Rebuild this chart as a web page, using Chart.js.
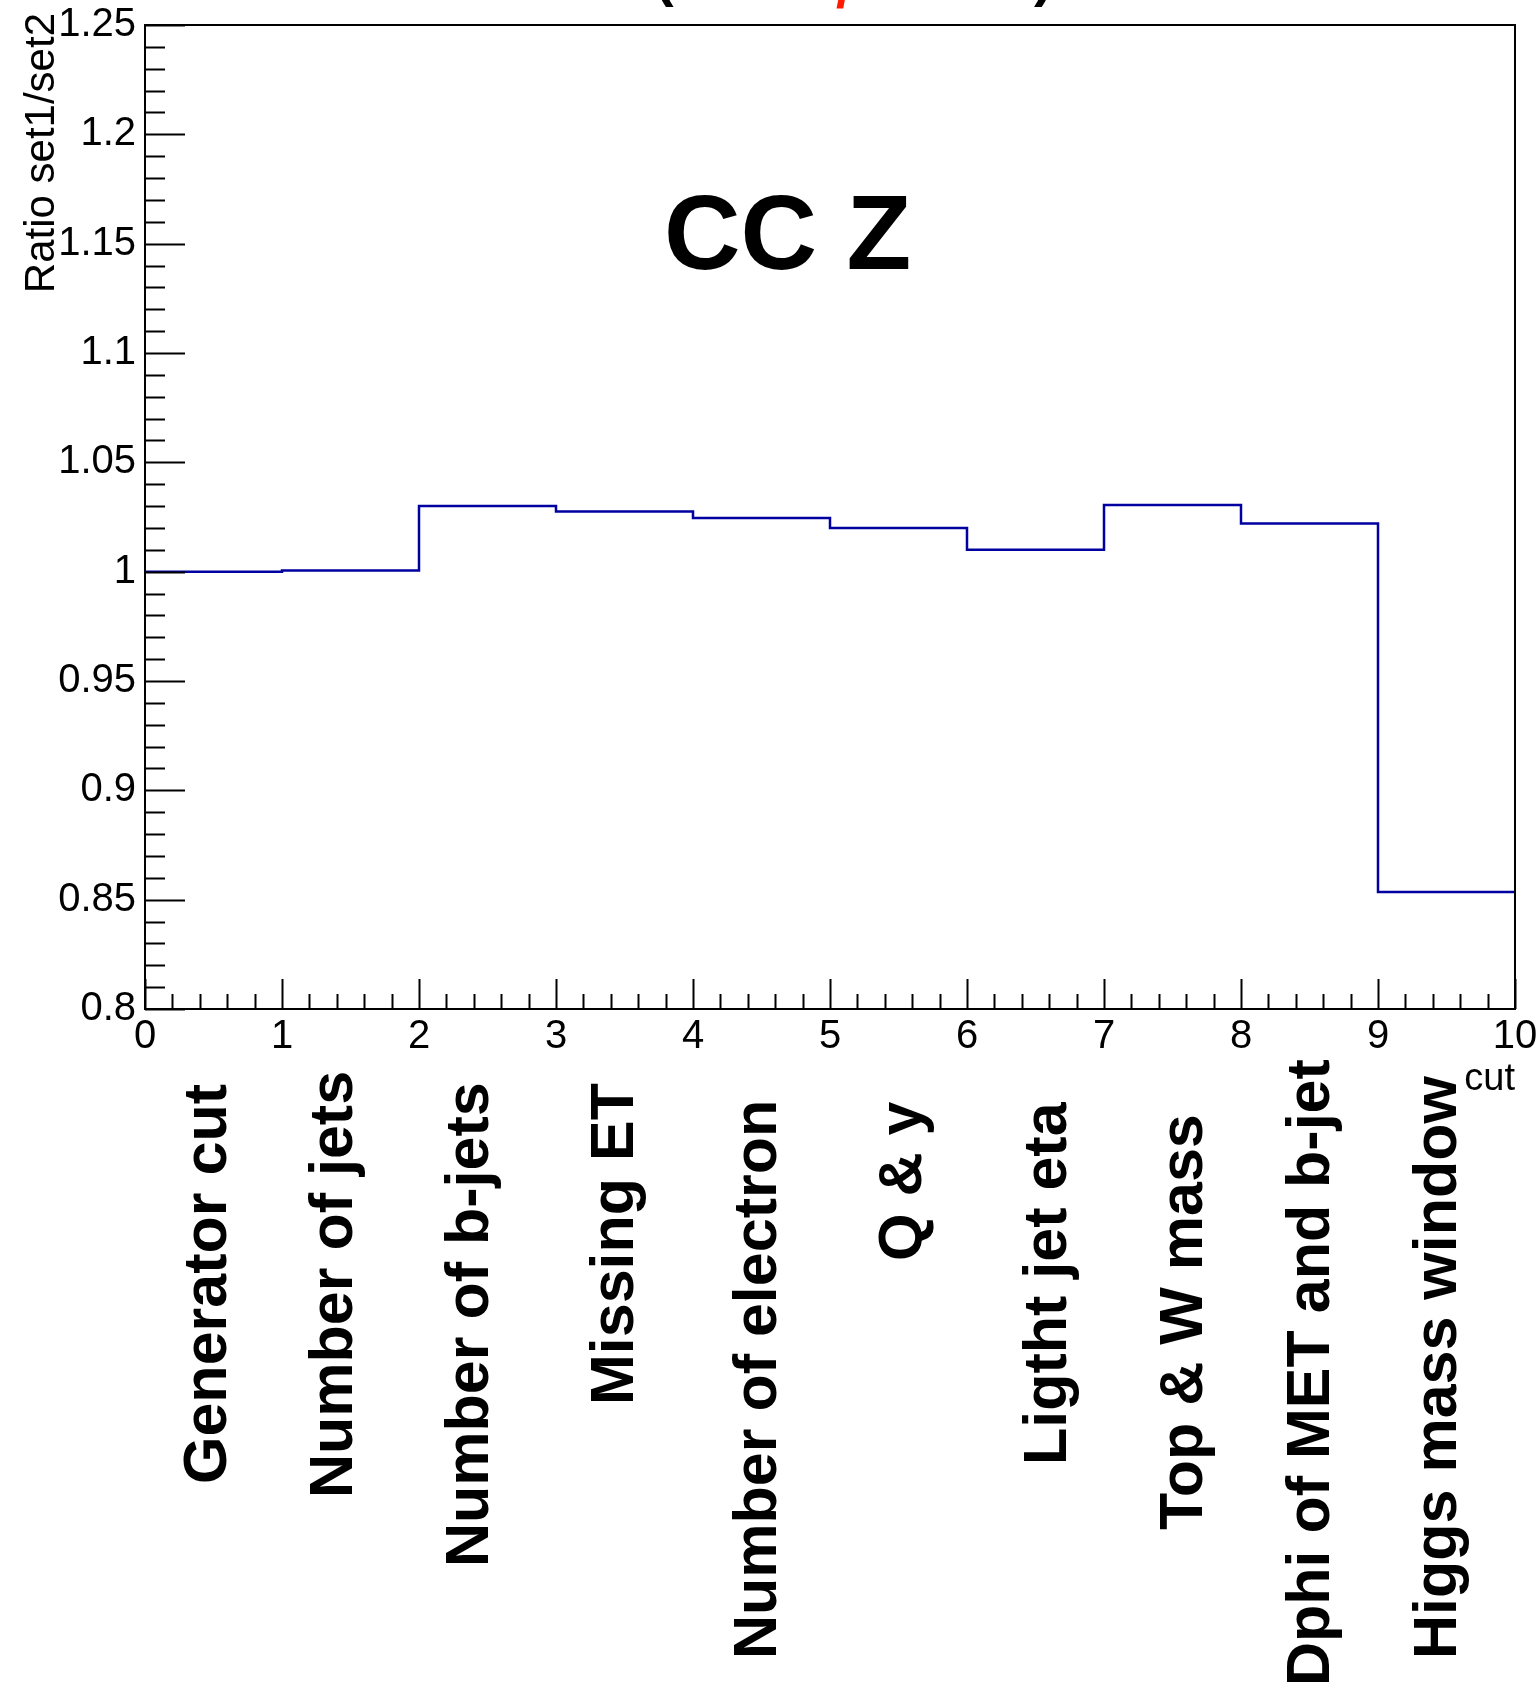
<!DOCTYPE html>
<html>
<head>
<meta charset="utf-8">
<script src="https://cdn.jsdelivr.net/npm/chart.js@4.4.1/dist/chart.umd.min.js"></script>
<style>
    html, body { margin: 0; padding: 0; background: #ffffff; }
    #wrap { width: 1540px; height: 1693px; }
</style>
</head>
<body>
<div id="wrap"><canvas id="ratioChart" width="1540" height="1693"></canvas></div>
<script>
// bin edges along the "cut" axis and the ratio set1/set2 in each bin
const cutEdges = [0, 1, 2, 3, 4, 5, 6, 7, 8, 9, 10];
const ratioValues = [1.000, 1.0005, 1.030, 1.0275, 1.0245, 1.020, 1.010, 1.0305, 1.022, 0.8535];
const cutLabels = [
    'Generator cut', 'Number of jets', 'Number of b-jets', 'Missing ET', 'Number of electron',
    'Q & y', 'Ligtht jet eta', 'Top & W mass', 'Dphi of MET and b-jet', 'Higgs mass window'
];
const yTicks = [0.8, 0.85, 0.9, 0.95, 1, 1.05, 1.1, 1.15, 1.2, 1.25];
const yTickLabels = ['0.8', '0.85', '0.9', '0.95', '1', '1.05', '1.1', '1.15', '1.2', '1.25'];
const xTicks = [0, 1, 2, 3, 4, 5, 6, 7, 8, 9, 10];
const xTickLabels = ['0', '1', '2', '3', '4', '5', '6', '7', '8', '9', '10'];

// hand placement of the rotated cut names (baseline shift from bin centre, start y)
const labelShift = [12.5, 1.5, 0.5, 8.5, 14.5, 22, 30, 29, 19.5, 9.5];
const labelStartY = [1484, 1498, 1567, 1405, 1659, 1261, 1465, 1530, 1686, 1659];

const stepPoints = ratioValues.map((v, i) => ({ x: cutEdges[i], y: v }));
stepPoints.push({ x: cutEdges[cutEdges.length - 1], y: ratioValues[ratioValues.length - 1] });

const FONT = '"Liberation Sans", Helvetica, Arial, sans-serif';

const framePlugin = {
    id: 'rootFrame',
    afterDraw(chart) {
        const { ctx, chartArea: a, scales: { x, y } } = chart;
        ctx.save();
        ctx.strokeStyle = '#000000';
        ctx.lineWidth = 2;
        ctx.strokeRect(a.left, a.top, a.right - a.left, a.bottom - a.top);

        // y ticks inside the frame
        ctx.beginPath();
        for (let k = 0; k <= 45; k += 1) {
            const v = 0.8 + k * 0.01;
            const py = Math.round(y.getPixelForValue(v)) + 0.5;
            const len = k % 5 === 0 ? 40 : 20;
            ctx.moveTo(a.left, py);
            ctx.lineTo(a.left + len, py);
        }
        // x ticks inside the frame
        for (let k = 0; k <= 50; k += 1) {
            const v = k * 0.2;
            const px = Math.round(x.getPixelForValue(v)) + 0.5;
            const len = k % 5 === 0 ? 30 : 15;
            ctx.moveTo(px, a.bottom);
            ctx.lineTo(px, a.bottom - len);
        }
        ctx.lineWidth = 2;
        ctx.stroke();

        // axis titles
        ctx.fillStyle = '#000000';
        ctx.font = `38px ${FONT}`;
        ctx.textAlign = 'right';
        ctx.textBaseline = 'alphabetic';
        ctx.fillText('cut', a.right, 1090);

        ctx.save();
        ctx.translate(54, 13);
        ctx.rotate(-Math.PI / 2);
        ctx.font = `42px ${FONT}`;
        ctx.textAlign = 'right';
        ctx.fillText('Ratio set1/set2', 0, 0);
        ctx.restore();

        // big label
        ctx.font = `bold 106px ${FONT}`;
        ctx.textAlign = 'left';
        ctx.fillText('CC Z', 664, 269);

        // cut names below the axis
        ctx.font = `bold 61px ${FONT}`;
        cutLabels.forEach((label, i) => {
            const cx = x.getPixelForValue((cutEdges[i] + cutEdges[i + 1]) / 2) + labelShift[i];
            ctx.save();
            ctx.translate(cx, labelStartY[i]);
            ctx.rotate(-Math.PI / 2);
            ctx.textAlign = 'left';
            ctx.textBaseline = 'alphabetic';
            ctx.fillText(label, 0, 0);
            ctx.restore();
        });

        // title mostly cut off at the top edge
        ctx.font = `bold 56px ${FONT}`;
        ctx.textAlign = 'left';
        ctx.fillText('(', 655, -5);
        ctx.fillText(')', 1034, -5);
        ctx.fillStyle = '#ff1a00';
        ctx.fillText('/', 836, 7);
        ctx.restore();
    }
};

new Chart(document.getElementById('ratioChart'), {
    type: 'line',
    data: {
        datasets: [{
            label: 'ratio',
            data: stepPoints,
            stepped: 'before',
            borderColor: '#0000a0',
            borderWidth: 2.5,
            pointRadius: 0,
            fill: false,
            tension: 0
        }]
    },
    options: {
        responsive: false,
        devicePixelRatio: 1,
        animation: false,
        events: [],
        layout: { padding: { top: 16, right: 25, left: 0, bottom: 0 } },
        plugins: {
            legend: { display: false },
            tooltip: { enabled: false },
            title: { display: false }
        },
        scales: {
            x: {
                type: 'linear',
                min: 0,
                max: 10,
                afterBuildTicks: (scale) => { scale.ticks = xTicks.map(v => ({ value: v })); },
                afterFit: (scale) => { scale.height = 684; },
                ticks: {
                    autoSkip: false,
                    maxRotation: 0,
                    padding: -4,
                    color: '#000000',
                    font: { family: FONT, size: 40 },
                    callback: (value) => xTickLabels[xTicks.indexOf(value)]
                },
                grid: { display: false },
                border: { display: false }
            },
            y: {
                type: 'linear',
                min: 0.8,
                max: 1.25,
                afterBuildTicks: (scale) => { scale.ticks = yTicks.map(v => ({ value: v })); },
                afterFit: (scale) => { scale.width = 145; },
                ticks: {
                    autoSkip: false,
                    padding: 1,
                    color: '#000000',
                    font: { family: FONT, size: 40 },
                    callback: (value) => yTickLabels[yTicks.indexOf(value)]
                },
                grid: { display: false },
                border: { display: false }
            }
        }
    },
    plugins: [framePlugin]
});
</script>
</body>
</html>
